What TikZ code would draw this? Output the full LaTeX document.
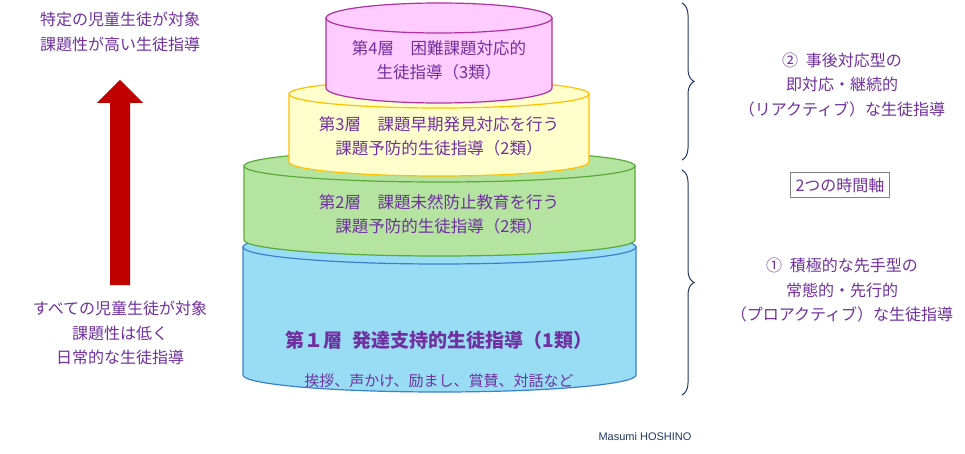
\documentclass[tikz,border=0pt]{standalone}
\usepackage{fontspec}
\setmainfont{Noto Sans CJK JP}
\usetikzlibrary{decorations.pathreplacing}
\definecolor{txtpurple}{HTML}{7030A0}
\definecolor{navy}{HTML}{203864}
\definecolor{pinkfill}{HTML}{FFCCFF}
\definecolor{pinkline}{HTML}{B030A0}
\definecolor{yelfill}{HTML}{FFFFCC}
\definecolor{yelline}{HTML}{FFC000}
\definecolor{grnfill}{HTML}{B5E3A0}
\definecolor{grnline}{HTML}{5AAA3A}
\definecolor{bluefill}{HTML}{99DDF5}
\definecolor{blueline}{HTML}{3A80D0}
\definecolor{arrowred}{HTML}{C00000}
% cylinder: left, right, top y, bottom y, ry, fill, line
\newcommand{\layercyl}[7]{
  \draw[#7,fill=#6,line width=1.2pt] (#1,#3) -- (#1,#4)
    arc[start angle=180,end angle=0,x radius={(#2-#1)/2},y radius=#5]
    -- (#2,#3) -- cycle;
  \draw[#7,fill=#6,line width=1.2pt] ({(#1+#2)/2},#3) ellipse[x radius={(#2-#1)/2},y radius=#5];
}
\begin{document}
\begin{tikzpicture}[x=1pt,y=-1pt,
  lbl/.style={text=txtpurple,font=\fontsize{16.5}{24}\selectfont,align=center},
  side/.style={text=txtpurple,font=\fontsize{16}{24.5}\selectfont,align=center},
  bracestyle/.style={navy,line width=1pt,decorate,decoration={brace,amplitude=12pt}}]
\useasboundingbox (0,0) rectangle (965,454);
% layers, bottom first
\layercyl{243}{636}{247}{375}{17}{bluefill}{blueline}
\layercyl{244}{635}{166}{240}{16}{grnfill}{grnline}
\layercyl{289}{589}{94}{162}{14}{yelfill}{yelline}
\layercyl{326}{552}{18}{88}{15}{pinkfill}{pinkline}
% layer texts
\node[lbl] (l4) at (439,60) {第4層\quad 困難課題対応的\\生徒指導（3類）};
\node[lbl] (l3) at (439,136) {第3層\quad 課題早期発見対応を行う\\課題予防的生徒指導（2類）};
\node[lbl] (l2) at (439,214) {第2層\quad 課題未然防止教育を行う\\課題予防的生徒指導（2類）};
\node[text=txtpurple,font=\fontsize{19}{22}\selectfont\bfseries] (l1) at (439,340) {第１層\enspace 発達支持的生徒指導（1類）};
\node[text=txtpurple,font=\fontsize{15}{18}\selectfont] (l1b) at (439,381) {挨拶、声かけ、励まし、賞賛、対話など};
% left side
\node[side] (high) at (120,32) {特定の児童生徒が対象\\課題性が高い生徒指導};
\node[side] (low) at (120,333) {すべての児童生徒が対象\\課題性は低く\\日常的な生徒指導};
\fill[arrowred] (110,285) -- (110,103) -- (97,103) -- (120,80) -- (143,103) -- (130,103) -- (130,285) -- cycle;
% right side
\draw[bracestyle] (682,3) -- (682,160);
\draw[bracestyle] (682,170) -- (682,395);
\node[side] (react) at (842,85) {②\enspace 事後対応型の\\即対応・継続的\\（リアクティブ）な生徒指導};
\node[text=txtpurple,font=\fontsize{16}{18}\selectfont,draw=gray,line width=1pt,inner sep=5pt] (axis) at (840,185) {2つの時間軸};
\node[side] (proact) at (842,290) {①\enspace 積極的な先手型の\\常態的・先行的\\（プロアクティブ）な生徒指導};
\node[text=navy,font=\fontspec{Liberation Sans}\fontsize{11}{12}\selectfont] (auth) at (645,437) {Masumi HOSHINO};
\end{tikzpicture}
\end{document}
